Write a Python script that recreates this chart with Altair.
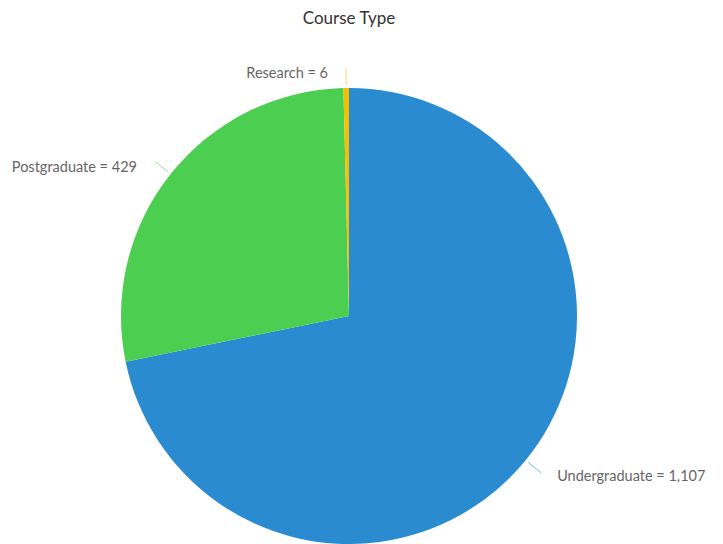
import altair as alt
import pandas as pd

title_text = ["Course Type"]
categories = ["Undergraduate", "Postgraduate", "Research"]
counts = [1107, 429, 6]
colors = ["#2a8bd0", "#4ccf50", "#f6c000"]
slice_order = [0, 1, 2]

df = pd.DataFrame({"category": categories, "count": counts, "order": slice_order})

CX, CY, R = 341, 308, 228
R1, R2 = R + 3, R + 20
FONT = "Lato"

color_scale = alt.Scale(domain=categories, range=colors)

arc = alt.Chart(df).mark_arc(outerRadius=R).encode(
    theta=alt.Theta("count:Q", stack=True),
    order=alt.Order("order:O"),
    color=alt.Color("category:N", scale=color_scale, legend=None),
    x=alt.value(CX),
    y=alt.value(CY),
)

geo = (
    alt.Chart(df)
    .transform_window(cum="sum(count)", sort=[alt.SortField("order")], frame=[None, 0])
    .transform_joinaggregate(total="sum(count)")
    .transform_calculate(mid="(datum.cum - datum.count/2) / datum.total * 2 * PI")
    .transform_calculate(
        lx1=f"{CX} + {R1} * sin(datum.mid)",
        ly1=f"{CY} - {R1} * cos(datum.mid)",
        lx2=f"{CX} + {R2} * sin(datum.mid)",
        ly2=f"{CY} - {R2} * cos(datum.mid)",
        label="datum.category + ' = ' + format(datum.count, ',')",
        side="sin(datum.mid) >= 0 ? 'right' : 'left'",
    )
)

rules = geo.mark_rule(strokeWidth=1, opacity=0.6).encode(
    x=alt.X("lx1:Q", scale=None, axis=None),
    y=alt.Y("ly1:Q", scale=None, axis=None),
    x2="lx2:Q",
    y2="ly2:Q",
    color=alt.Color("category:N", scale=color_scale, legend=None),
)

text_right = geo.transform_filter("datum.side == 'right'").mark_text(
    align="left", baseline="middle", dx=16, dy=4, font=FONT, fontSize=14.5, color="#666666"
).encode(
    x=alt.X("lx2:Q", scale=None, axis=None),
    y=alt.Y("ly2:Q", scale=None, axis=None),
    text="label:N",
)

text_left = geo.transform_filter("datum.side == 'left'").mark_text(
    align="right", baseline="middle", dx=-18, dy=6, font=FONT, fontSize=14.5, color="#666666"
).encode(
    x=alt.X("lx2:Q", scale=None, axis=None),
    y=alt.Y("ly2:Q", scale=None, axis=None),
    text="label:N",
)

title = alt.Chart(pd.DataFrame({"t": title_text})).mark_text(
    align="center", baseline="middle", font=FONT, fontSize=17, color="#333333"
).encode(x=alt.value(CX), y=alt.value(11), text="t:N")

chart = (
    alt.layer(arc, rules, text_right, text_left, title)
    .properties(width=707, height=536, autosize=alt.AutoSizeParams(type="none"), padding=0)
    .configure_view(stroke=None)
)

chart.save("out.html", embed_options={"renderer": "svg", "actions": False})
